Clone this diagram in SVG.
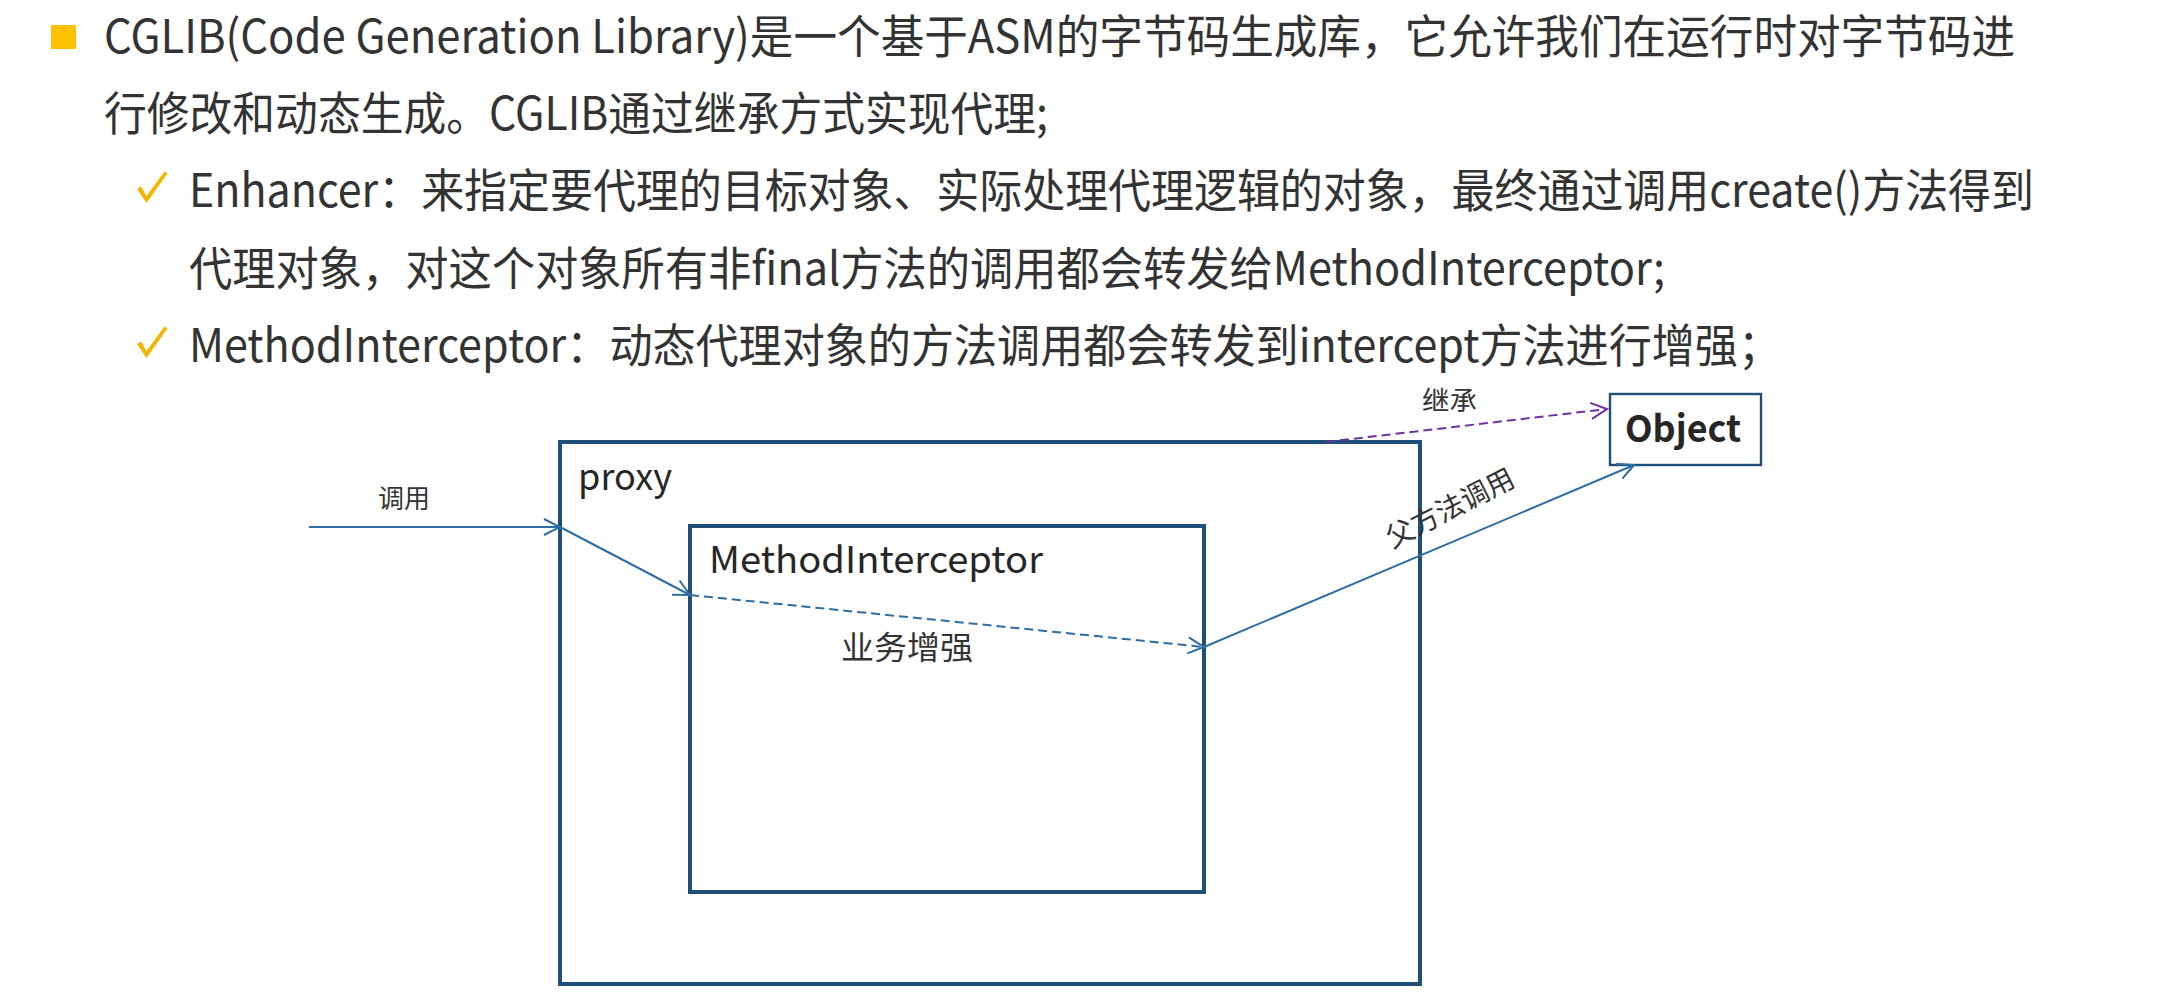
<svg xmlns="http://www.w3.org/2000/svg" width="2166" height="994" viewBox="0 0 2166 994">
  <style>
    .hdr { font-family: "Noto Sans CJK SC", "Noto Sans", sans-serif; font-size: 46px; fill: #333333; }
    .box { fill: none; stroke: #1f4e79; stroke-width: 4; }
    .title { font-family: "Noto Sans CJK SC", "Noto Sans", sans-serif; font-size: 37px; fill: #262626; }
    .lbl { font-family: "Noto Sans CJK SC", sans-serif; font-size: 26px; fill: #333333; }
    .blue { fill: none; stroke: #2e6da4; stroke-width: 2; }
    .dash { stroke-dasharray: 9 5; }
    .purple { fill: none; stroke: #7030a0; stroke-width: 2; stroke-dasharray: 9 5; }
  </style>
  <defs>
    <marker id="arrBlue" viewBox="-18 -10 20 20" markerWidth="20" markerHeight="20" refX="0" refY="0" orient="auto" markerUnits="userSpaceOnUse">
      <path d="M-16,-8 L0,0 L-16,8" fill="none" stroke="#2e6da4" stroke-width="2"/>
    </marker>
    <marker id="arrPurple" viewBox="-18 -10 20 20" markerWidth="20" markerHeight="20" refX="0" refY="0" orient="auto" markerUnits="userSpaceOnUse">
      <path d="M-16,-8 L0,0 L-16,8" fill="none" stroke="#7030a0" stroke-width="2"/>
    </marker>
    <path id="check" d="M137,189 L141,186.5 L146.5,196 L164.5,171.5 L167.5,173.5 L146.5,203 Z" fill="#f5b400"/>
  </defs>

  <g id="header">
    <rect x="51" y="25" width="25" height="24" fill="#ffc000"/>
    <text class="hdr" x="104" y="53" textLength="1911" lengthAdjust="spacingAndGlyphs">CGLIB(Code Generation Library)是一个基于ASM的字节码生成库，它允许我们在运行时对字节码进</text>
    <text class="hdr" x="104" y="130" textLength="944" lengthAdjust="spacingAndGlyphs">行修改和动态生成。CGLIB通过继承方式实现代理;</text>
    <use href="#check"/>
    <text class="hdr" x="189" y="207" textLength="1845" lengthAdjust="spacingAndGlyphs">Enhancer：来指定要代理的目标对象、实际处理代理逻辑的对象，最终通过调用create()方法得到</text>
    <text class="hdr" x="189" y="285" textLength="1476" lengthAdjust="spacingAndGlyphs">代理对象，对这个对象所有非final方法的调用都会转发给MethodInterceptor;</text>
    <use href="#check" transform="translate(0,155)"/>
    <text class="hdr" x="189" y="362" textLength="1592" lengthAdjust="spacingAndGlyphs">MethodInterceptor：动态代理对象的方法调用都会转发到intercept方法进行增强；</text>
  </g>

  <g id="proxy">
    <rect class="box" x="560" y="442" width="860" height="542"/>
    <text class="title" x="578" y="490" textLength="94" lengthAdjust="spacingAndGlyphs">proxy</text>
  </g>

  <g id="method-interceptor">
    <rect class="box" x="690" y="526" width="514" height="366"/>
    <text class="title" x="709" y="573" textLength="334" lengthAdjust="spacingAndGlyphs">MethodInterceptor</text>
  </g>

  <g id="object">
    <rect x="1610" y="394" width="151" height="71" fill="#ffffff" stroke="#1f4e79" stroke-width="2.4"/>
    <text x="1625" y="442" textLength="116" lengthAdjust="spacingAndGlyphs" style="font-family:'Noto Sans CJK SC','Noto Sans',sans-serif;font-size:37px;font-weight:bold;fill:#262626">Object</text>
  </g>

  <g id="connectors">
    <line class="blue" x1="309" y1="527" x2="560" y2="527" marker-end="url(#arrBlue)"/>
    <text class="lbl" x="378" y="508" textLength="52" lengthAdjust="spacingAndGlyphs">调用</text>
    <line class="blue" x1="560" y1="527" x2="690" y2="595" marker-end="url(#arrBlue)"/>
    <line class="blue dash" x1="690" y1="595" x2="1204" y2="647" marker-end="url(#arrBlue)"/>
    <text class="lbl" x="841" y="659" style="font-size:32px" textLength="132" lengthAdjust="spacingAndGlyphs">业务增强</text>
    <line class="blue" x1="1204" y1="647" x2="1634" y2="465" marker-end="url(#arrBlue)"/>
    <text class="lbl" transform="translate(1450,508) rotate(-27)" x="0" y="10" text-anchor="middle" style="font-size:28px">父方法调用</text>
    <line class="purple" x1="1326" y1="442" x2="1607" y2="409" marker-end="url(#arrPurple)"/>
    <text class="lbl" x="1422" y="410" textLength="55" lengthAdjust="spacingAndGlyphs">继承</text>
  </g>
</svg>
